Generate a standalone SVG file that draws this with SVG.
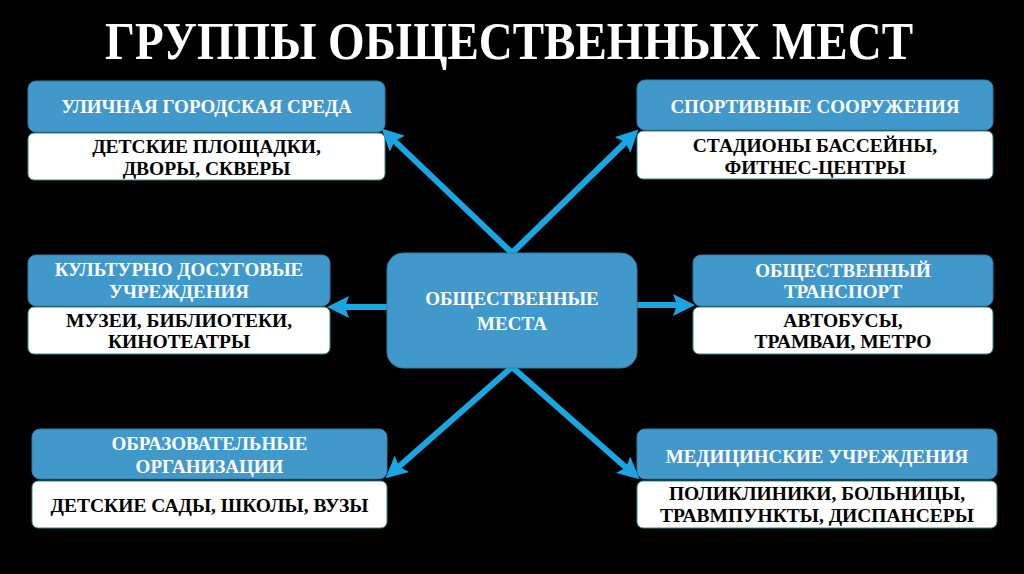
<svg xmlns="http://www.w3.org/2000/svg" width="1024" height="574" viewBox="0 0 1024 574">
<defs>
<style>
.hd{fill:#4199CB;stroke:#2F7FA8;stroke-width:1}
.wb{fill:#FFFFFF;stroke:#2E8C8C;stroke-width:1}
.ht{font-family:"Liberation Serif","DejaVu Serif",serif;font-weight:bold;font-size:19px;fill:#FFFFFF;text-anchor:middle}
.wt{font-family:"Liberation Serif","DejaVu Serif",serif;font-weight:bold;font-size:19.5px;fill:#000000;text-anchor:middle}
.ar{stroke:#1AA6E2;stroke-width:6;fill:none;marker-end:url(#ah)}
</style>
<marker id="ah" viewBox="0 0 22 22" refX="10" refY="11" markerWidth="22" markerHeight="22" markerUnits="userSpaceOnUse" orient="auto">
<path d="M0,0 L22,11 L0,22 L4,11 Z" fill="#1AA6E2"/>
</marker>
</defs>
<rect x="0" y="0" width="1024" height="574" fill="#000000"/>
<text x="509" y="59" font-family="Liberation Serif, DejaVu Serif, serif" font-weight="bold" font-size="53" fill="#FFFFFF" text-anchor="middle" textLength="808" lengthAdjust="spacingAndGlyphs">ГРУППЫ ОБЩЕСТВЕННЫХ МЕСТ</text>

<g id="connectors">
<line class="ar" x1="512" y1="253" x2="390.2" y2="136.9"/>
<line class="ar" x1="512" y1="253" x2="629.8" y2="138"/>
<line class="ar" x1="512" y1="367" x2="394.5" y2="470.4"/>
<line class="ar" x1="512" y1="367" x2="630.5" y2="471.4"/>
<line class="ar" x1="387" y1="307" x2="339" y2="307"/>
<line class="ar" x1="637" y1="305" x2="683" y2="305"/>
</g>

<g id="center">
<rect x="387" y="253" width="250" height="115" rx="16" fill="#4199CB" stroke="#2F7FA8" stroke-width="1"/>
<text class="ht" x="512" y="305" font-size="20">ОБЩЕСТВЕННЫЕ</text>
<text class="ht" x="512" y="330" font-size="20">МЕСТА</text>
</g>

<g id="street">
<rect class="hd" x="28" y="81" width="357" height="51" rx="8"/>
<rect class="wb" x="28" y="133" width="357" height="47" rx="6"/>
<text class="ht" x="206.5" y="113">УЛИЧНАЯ ГОРОДСКАЯ СРЕДА</text>
<text class="wt" x="206.5" y="153">ДЕТСКИЕ ПЛОЩАДКИ,</text>
<text class="wt" x="206.5" y="175">ДВОРЫ, СКВЕРЫ</text>
</g>

<g id="sport">
<rect class="hd" x="637" y="80" width="356" height="50" rx="8"/>
<rect class="wb" x="637" y="131" width="356" height="48" rx="6"/>
<text class="ht" x="815" y="113">СПОРТИВНЫЕ СООРУЖЕНИЯ</text>
<text class="wt" x="815" y="152">СТАДИОНЫ БАССЕЙНЫ,</text>
<text class="wt" x="815" y="174">ФИТНЕС-ЦЕНТРЫ</text>
</g>

<g id="culture">
<rect class="hd" x="28" y="255" width="302" height="51" rx="8"/>
<rect class="wb" x="28" y="307" width="302" height="47" rx="6"/>
<text class="ht" x="179" y="276">КУЛЬТУРНО ДОСУГОВЫЕ</text>
<text class="ht" x="179" y="298">УЧРЕЖДЕНИЯ</text>
<text class="wt" x="179" y="327">МУЗЕИ, БИБЛИОТЕКИ,</text>
<text class="wt" x="179" y="348">КИНОТЕАТРЫ</text>
</g>

<g id="transport">
<rect class="hd" x="693" y="255" width="300" height="51" rx="8"/>
<rect class="wb" x="693" y="307" width="300" height="47" rx="6"/>
<text class="ht" x="843" y="277">ОБЩЕСТВЕННЫЙ</text>
<text class="ht" x="843" y="298">ТРАНСПОРТ</text>
<text class="wt" x="843" y="327">АВТОБУСЫ,</text>
<text class="wt" x="843" y="348">ТРАМВАИ, МЕТРО</text>
</g>

<g id="education">
<rect class="hd" x="32" y="429" width="355" height="50" rx="8"/>
<rect class="wb" x="32" y="481" width="355" height="47" rx="6"/>
<text class="ht" x="209.5" y="450">ОБРАЗОВАТЕЛЬНЫЕ</text>
<text class="ht" x="209.5" y="473">ОРГАНИЗАЦИИ</text>
<text class="wt" x="209.5" y="512">ДЕТСКИЕ САДЫ, ШКОЛЫ, ВУЗЫ</text>
</g>

<g id="medical">
<rect class="hd" x="637" y="429" width="360" height="50" rx="8"/>
<rect class="wb" x="637" y="481" width="360" height="47" rx="6"/>
<text class="ht" x="817" y="463">МЕДИЦИНСКИЕ УЧРЕЖДЕНИЯ</text>
<text class="wt" x="817" y="500">ПОЛИКЛИНИКИ, БОЛЬНИЦЫ,</text>
<text class="wt" x="817" y="522">ТРАВМПУНКТЫ, ДИСПАНСЕРЫ</text>
</g>
</svg>
